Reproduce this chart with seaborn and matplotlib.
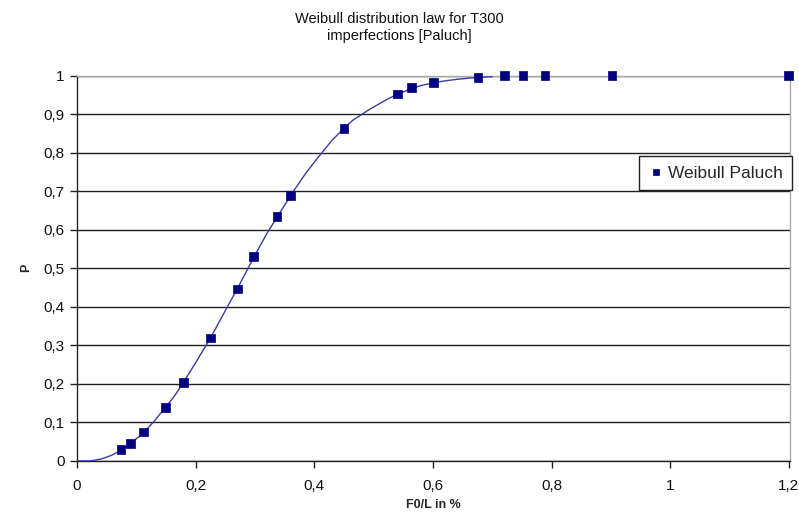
import matplotlib
matplotlib.use("Agg")
import matplotlib.pyplot as plt
import seaborn as sns
import pandas as pd
from matplotlib.ticker import FuncFormatter, MultipleLocator

# measured points (F0/L in %, P)
pts_x = [0.074, 0.090, 0.112, 0.149, 0.179, 0.225, 0.270, 0.298, 0.337, 0.360,
         0.450, 0.540, 0.564, 0.601, 0.676, 0.721, 0.752, 0.789, 0.902, 1.2]
pts_p = [0.030, 0.045, 0.075, 0.139, 0.203, 0.319, 0.446, 0.530, 0.634, 0.688,
         0.863, 0.952, 0.968, 0.981, 0.995, 0.999, 1.0, 1.0, 1.0, 1.0]

# fitted curve
curve_x = [0.0, 0.02, 0.03, 0.04, 0.05, 0.06, 0.074, 0.090, 0.112, 0.130, 0.149,
           0.165, 0.179, 0.200, 0.225, 0.250, 0.270, 0.298, 0.320, 0.337, 0.365,
           0.385, 0.400, 0.413, 0.430, 0.450, 0.465, 0.481, 0.495, 0.510, 0.525,
           0.540, 0.564, 0.580, 0.601, 0.620, 0.640, 0.660, 0.676, 0.700]
curve_p = [0.0, 0.0, 0.002, 0.005, 0.010, 0.016, 0.028, 0.045, 0.073, 0.103, 0.139,
           0.170, 0.203, 0.255, 0.319, 0.390, 0.446, 0.528, 0.590, 0.632, 0.700,
           0.745, 0.775, 0.800, 0.832, 0.863, 0.884, 0.900, 0.914, 0.927, 0.940,
           0.951, 0.966, 0.974, 0.981, 0.986, 0.990, 0.993, 0.995, 0.997]

series_name = "Weibull Paluch"
title = "Weibull distribution law for T300\nimperfections [Paluch]"

sns.set_theme(style="white")
plt.rcParams["font.family"] = ["Liberation Sans", "DejaVu Sans"]

fig = plt.figure(figsize=(7.99, 5.17), dpi=100)
ax = fig.add_axes([77 / 799, 1 - 461 / 517, (790 - 77) / 799, (461 - 75.5) / 517])

df_curve = pd.DataFrame({"x": curve_x, "p": curve_p})
df_pts = pd.DataFrame({"x": pts_x, "p": pts_p, "s": series_name})

sns.lineplot(data=df_curve, x="x", y="p", ax=ax, color="#3a3aa8", linewidth=1.0,
             sort=False, legend=False, zorder=3)
sns.scatterplot(data=df_pts, x="x", y="p", ax=ax, hue="s", palette=["#000080"],
                marker="s", s=40, edgecolor="#000080", linewidth=0.5, zorder=4,
                clip_on=False)

ax.set_xlim(0, 1.202)
ax.set_ylim(0, 1)
ax.xaxis.set_major_locator(MultipleLocator(0.2))
ax.yaxis.set_major_locator(MultipleLocator(0.1))

def fmt(v, pos):
    s = f"{v:.1f}".rstrip("0").rstrip(".")
    return s.replace(".", ",")

ax.xaxis.set_major_formatter(FuncFormatter(fmt))
ax.yaxis.set_major_formatter(FuncFormatter(fmt))

ax.grid(axis="y", color="#222222", linewidth=1.0)
ax.grid(axis="x", visible=False)
ax.set_axisbelow(True)

for side in ["top", "right"]:
    ax.spines[side].set_color("#aaaaaa")
    ax.spines[side].set_linewidth(1.0)
for side in ["left", "bottom"]:
    ax.spines[side].set_color("#222222")
    ax.spines[side].set_linewidth(1.0)

ax.tick_params(axis="both", which="major", direction="out", length=5, width=1,
               color="#222222", labelsize=11, labelcolor="#111111", pad=4,
               left=True, bottom=True)
ax.tick_params(axis="x", pad=8)

ax.set_xlabel("F0/L in %", fontsize=9, fontweight="bold", labelpad=4)
ax.set_ylabel("P", fontsize=9, fontweight="bold", labelpad=8)

fig.text(0.5, 1 - 12 / 517, title, ha="center", va="top", fontsize=10.5,
         color="#111111", linespacing=1.3)

leg = ax.legend(loc="center left", bbox_to_anchor=(639 / 799, 1 - 173 / 517),
                bbox_transform=fig.transFigure, frameon=True, fancybox=False,
                fontsize=12.5, handletextpad=0.2, borderpad=0.55,
                handlelength=0.9, markerscale=0.6, borderaxespad=0)
leg.get_frame().set_edgecolor("#222222")
leg.get_frame().set_linewidth(1.0)
leg.get_frame().set_alpha(1)

fig.savefig("out.png", dpi=100)
